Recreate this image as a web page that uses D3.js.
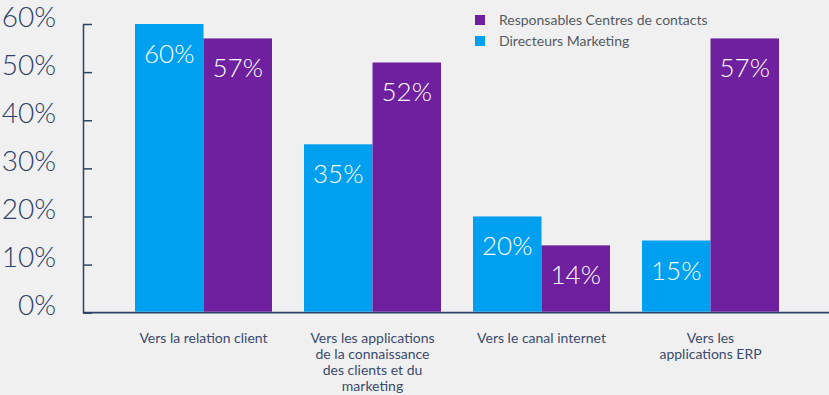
<!DOCTYPE html>
<html>
<head>
<meta charset="utf-8">
<script src="https://cdn.jsdelivr.net/npm/d3@7"></script>
<style>
  html, body { margin: 0; padding: 0; background: #f0f0f0; }
  svg { display: block; }
</style>
</head>
<body>
<svg id="chart" width="829" height="395"></svg>
<script>
// Categories (each label split into its display lines)
const categories = [
  ["Vers la relation client"],
  ["Vers les applications", "de la connaissance", "des clients et du", "marketing"],
  ["Vers le canal internet"],
  ["Vers les", "applications ERP"]
];
const seriesNames = ["Directeurs Marketing", "Responsables Centres de contacts"];
const directeursMarketing = [60, 35, 20, 15];
const responsablesCentres = [57, 52, 14, 57];
const yTicks = [0, 10, 20, 30, 40, 50, 60];

const colors = { "Directeurs Marketing": "#00a0f0", "Responsables Centres de contacts": "#6e209e" };
const axisColor = "#2e4168";
const fontStack = "Lato, 'Open Sans', sans-serif";

const svg = d3.select("#chart");
const W = 829, H = 395;
const margin = { left: 83, top: 24 };
const y0 = 312.7;

svg.append("rect").attr("width", W).attr("height", H).attr("fill", "#f0f0f0");

const y = d3.scaleLinear().domain([0, 60]).range([y0, margin.top]);
const x = d3.scaleBand().domain(d3.range(categories.length)).range([119, 795]).paddingInner(0);
const groupW = 137;
const xs = d3.scaleBand().domain(seriesNames).range([0, groupW]);

// Y axis: ticks point inward, labels on the far left
const yAxis = d3.axisLeft(y)
  .tickValues(yTicks)
  .tickSizeInner(-9)
  .tickSizeOuter(0)
  .tickPadding(27)
  .tickFormat(d => d + "%");

const gy = svg.append("g").attr("transform", `translate(${margin.left},0)`).call(yAxis);
gy.select(".domain").attr("stroke", axisColor).attr("stroke-width", 1.5);
gy.selectAll(".tick line").attr("stroke", axisColor).attr("stroke-width", 1.5);
gy.selectAll(".tick text")
  .attr("fill", axisColor)
  .attr("font-family", fontStack)
  .attr("font-size", 28)
  .attr("font-weight", 300)
  .attr("dy", "0.08em");

// Bars
const groups = svg.append("g").selectAll("g")
  .data(categories.map((c, i) => i))
  .join("g")
  .attr("transform", i => `translate(${x(i) + x.bandwidth() / 2 - groupW / 2},0)`);

const rows = i => [
  { s: seriesNames[0], v: directeursMarketing[i] },
  { s: seriesNames[1], v: responsablesCentres[i] }
];

// Baseline (full width, drawn under the bars)
svg.insert("line", "g")
  .attr("x1", margin.left).attr("x2", W)
  .attr("y1", y0).attr("y2", y0)
  .attr("stroke", axisColor).attr("stroke-width", 1.8);

groups.selectAll("rect")
  .data(i => rows(i))
  .join("rect")
  .attr("x", d => xs(d.s))
  .attr("width", xs.bandwidth())
  .attr("y", d => y(d.v))
  .attr("height", d => y0 - 1 - y(d.v))
  .attr("fill", d => colors[d.s]);

groups.selectAll("text.val")
  .data(i => rows(i))
  .join("text")
  .attr("class", "val")
  .attr("x", d => xs(d.s) + xs.bandwidth() / 2)
  .attr("y", d => y(d.v) + 39)
  .attr("text-anchor", "middle")
  .attr("fill", "#ffffff")
  .attr("font-family", fontStack)
  .attr("font-size", 26)
  .attr("font-weight", 300)
  .text(d => d.v + "%");

// Category labels
groups.append("text")
  .attr("text-anchor", "middle")
  .attr("fill", "#3a4b6e")
  .attr("font-family", fontStack)
  .attr("font-size", 14)
  .selectAll("tspan")
  .data(i => categories[i])
  .join("tspan")
  .attr("x", groupW / 2)
  .attr("y", (d, k) => 343 + k * 16)
  .text(d => d);

// Legend
const legendItems = [seriesNames[1], seriesNames[0]];
const lg = svg.append("g").selectAll("g").data(legendItems).join("g")
  .attr("transform", (d, i) => `translate(475,${15 + i * 21})`);
lg.append("rect").attr("width", 10).attr("height", 10).attr("fill", d => colors[d]);
lg.append("text")
  .attr("x", 24).attr("y", 9.5)
  .attr("fill", "#555a60")
  .attr("font-family", fontStack)
  .attr("font-size", 14)
  .text(d => d);
</script>
</body>
</html>
